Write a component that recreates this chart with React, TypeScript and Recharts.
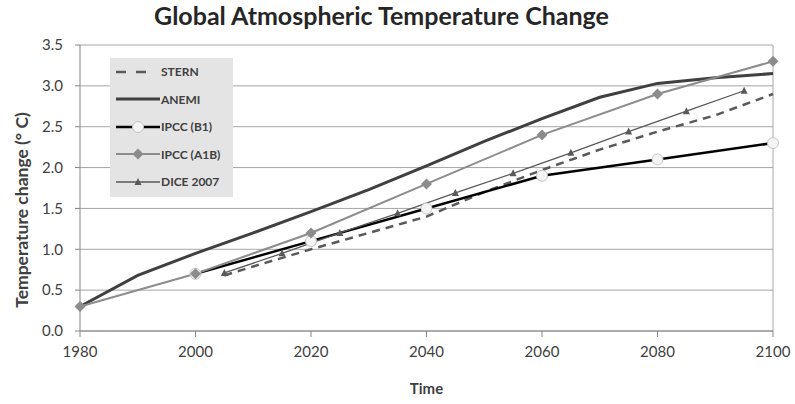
import React from 'react';
import {
  LineChart,
  Line,
  XAxis,
  YAxis,
  CartesianGrid,
  ReferenceLine,
  Label,
} from 'recharts';

/* ─── Data ────────────────────────────────────────────────────────────── */

const X_TICKS = [1980, 2000, 2020, 2040, 2060, 2080, 2100];
const Y_TICKS = [0, 0.5, 1, 1.5, 2, 2.5, 3, 3.5];

const STERN_YEARS = [2005, 2010, 2020, 2030, 2040, 2050, 2060, 2070, 2080, 2090, 2100];
const STERN_VALS = [0.68, 0.79, 1.0, 1.2, 1.4, 1.7, 1.97, 2.22, 2.44, 2.64, 2.9];

const ANEMI_YEARS = [1980, 1990, 2000, 2010, 2020, 2030, 2040, 2050, 2060, 2070, 2080, 2090, 2100];
const ANEMI_VALS = [0.3, 0.68, 0.95, 1.2, 1.46, 1.73, 2.02, 2.32, 2.6, 2.86, 3.03, 3.1, 3.15];

const B1_YEARS = [2000, 2020, 2040, 2060, 2080, 2100];
const B1_VALS = [0.7, 1.1, 1.5, 1.9, 2.1, 2.3];

const A1B_YEARS = [1980, 2000, 2020, 2040, 2060, 2080, 2100];
const A1B_VALS = [0.3, 0.7, 1.2, 1.8, 2.4, 2.9, 3.3];

const DICE_YEARS = [2005, 2015, 2025, 2035, 2045, 2055, 2065, 2075, 2085, 2095];
const DICE_VALS = [0.71, 0.95, 1.2, 1.44, 1.69, 1.93, 2.18, 2.44, 2.69, 2.94];

const pairs = (xs: number[], ys: number[]) => xs.map((x, i) => ({ x, y: ys[i] }));

/* ─── Styles ──────────────────────────────────────────────────────────── */

const FONT = 'Lato, "Open Sans", sans-serif';
const TEXT = '#404040';
const GRID = '#a6a6a6';

const C_STERN = '#595959';
const C_ANEMI = '#404040';
const C_B1 = '#000000';
const C_A1B = '#8c8c8c';
const C_DICE = '#595959';

/* ─── Markers ─────────────────────────────────────────────────────────── */

const Diamond = ({ cx, cy }: { cx?: number; cy?: number }) => {
  if (cx == null || cy == null) return null;
  const s = 5.5;
  return (
    <path
      d={`M${cx},${cy - s}L${cx + s},${cy}L${cx},${cy + s}L${cx - s},${cy}Z`}
      fill={C_A1B}
    />
  );
};

const Tri = ({ cx, cy }: { cx?: number; cy?: number }) => {
  if (cx == null || cy == null) return null;
  return (
    <path d={`M${cx},${cy - 4}L${cx + 3.5},${cy + 3}L${cx - 3.5},${cy + 3}Z`} fill={C_DICE} />
  );
};

const Circ = ({ cx, cy }: { cx?: number; cy?: number }) => {
  if (cx == null || cy == null) return null;
  return <circle cx={cx} cy={cy} r={5.5} fill="#f4f4f4" stroke="#c4c4c4" strokeWidth={1} />;
};

/* ─── Legend (overlay box, top-left of plot) ──────────────────────────── */

const LEGEND_ITEMS = [
  { name: 'STERN', color: C_STERN, width: 2.5, dash: '10 10', len: 31, marker: null },
  { name: 'ANEMI', color: C_ANEMI, width: 3, dash: undefined, len: 45, marker: null },
  { name: 'IPCC (B1)', color: C_B1, width: 2.5, dash: undefined, len: 45, marker: 'circle' },
  { name: 'IPCC (A1B)', color: C_A1B, width: 2, dash: undefined, len: 45, marker: 'diamond' },
  { name: 'DICE 2007', color: C_DICE, width: 1.3, dash: undefined, len: 45, marker: 'tri' },
];

function ChartLegend() {
  return (
    <div
      style={{
        position: 'absolute',
        left: 110,
        top: 58,
        width: 123,
        height: 139,
        background: '#e4e4e4',
        boxSizing: 'border-box',
        paddingTop: 0,
      }}
    >
      {LEGEND_ITEMS.map((it) => (
        <div key={it.name} style={{ display: 'flex', alignItems: 'center', height: 27.5 }}>
          <svg width={46} height={14} style={{ marginLeft: 5, flex: 'none' }}>
            <line
              x1={1}
              x2={it.len}
              y1={7}
              y2={7}
              stroke={it.color}
              strokeWidth={it.width}
              strokeDasharray={it.dash}
            />
            {it.marker === 'circle' && <Circ cx={23} cy={7} />}
            {it.marker === 'diamond' && <Diamond cx={23} cy={7} />}
            {it.marker === 'tri' && <Tri cx={23} cy={7} />}
          </svg>
          <span
            style={{
              fontFamily: FONT,
              fontWeight: 700,
              fontSize: 12,
              color: TEXT,
              whiteSpace: 'nowrap',
            }}
          >
            {it.name}
          </span>
        </div>
      ))}
    </div>
  );
}

/* ─── Main export ─────────────────────────────────────────────────────── */

export default function App() {
  return (
    <div
      style={{
        position: 'absolute',
        left: 0,
        top: 0,
        width: 795,
        height: 404,
        background: '#ffffff',
      }}
    >
      <LineChart
        width={795}
        height={404}
        margin={{ top: 45, right: 22, bottom: 43, left: 20 }}
      >
        <CartesianGrid horizontal vertical={false} stroke={GRID} strokeWidth={1} />
        <ReferenceLine x={2100} stroke={GRID} strokeWidth={1} />
        <XAxis
          type="number"
          dataKey="x"
          domain={[1980, 2100]}
          ticks={X_TICKS}
          height={30}
          tickSize={6}
          tickMargin={9}
          stroke="#868686"
          tick={{ fontSize: 15, fill: TEXT, fontFamily: FONT }}
        >
          <Label
            value="Time"
            position="bottom"
            offset={22}
            style={{ fontSize: 15, fontWeight: 700, fill: TEXT, fontFamily: FONT }}
          />
        </XAxis>
        <YAxis
          type="number"
          domain={[0, 3.5]}
          ticks={Y_TICKS}
          width={60}
          tickSize={5}
          tickMargin={12}
          stroke="#868686"
          tickFormatter={(v: number) => v.toFixed(1)}
          tick={{ fontSize: 15, fill: TEXT, fontFamily: FONT }}
        >
          <Label
            content={() => (
              <text
                x={0}
                y={0}
                transform="translate(28 210) rotate(-90)"
                textAnchor="middle"
                style={{ fontSize: 17.5, fontWeight: 700, fill: TEXT, fontFamily: FONT }}
              >
                Temperature change (° C)
              </text>
            )}
          />
        </YAxis>
        <Line
          data={pairs(ANEMI_YEARS, ANEMI_VALS)}
          dataKey="y"
          name="ANEMI"
          type="linear"
          stroke={C_ANEMI}
          strokeWidth={3}
          dot={false}
          isAnimationActive={false}
        />
        <Line
          data={pairs(STERN_YEARS, STERN_VALS)}
          dataKey="y"
          name="STERN"
          type="linear"
          stroke={C_STERN}
          strokeWidth={2.5}
          strokeDasharray="8 6"
          dot={false}
          isAnimationActive={false}
        />
        <Line
          data={pairs(B1_YEARS, B1_VALS)}
          dataKey="y"
          name="IPCC (B1)"
          type="linear"
          stroke={C_B1}
          strokeWidth={2.5}
          dot={<Circ />}
          activeDot={false}
          isAnimationActive={false}
        />
        <Line
          data={pairs(DICE_YEARS, DICE_VALS)}
          dataKey="y"
          name="DICE 2007"
          type="linear"
          stroke={C_DICE}
          strokeWidth={1.3}
          dot={<Tri />}
          activeDot={false}
          isAnimationActive={false}
        />
        <Line
          data={pairs(A1B_YEARS, A1B_VALS)}
          dataKey="y"
          name="IPCC (A1B)"
          type="linear"
          stroke={C_A1B}
          strokeWidth={2}
          dot={<Diamond />}
          activeDot={false}
          isAnimationActive={false}
        />
      </LineChart>
      <div
        style={{
          position: 'absolute',
          top: 0,
          left: -16,
          width: 795,
          textAlign: 'center',
          fontFamily: FONT,
          fontWeight: 700,
          fontSize: 25,
          lineHeight: '30px',
          color: '#262626',
        }}
      >
        Global Atmospheric Temperature Change
      </div>
      <ChartLegend />
    </div>
  );
}
